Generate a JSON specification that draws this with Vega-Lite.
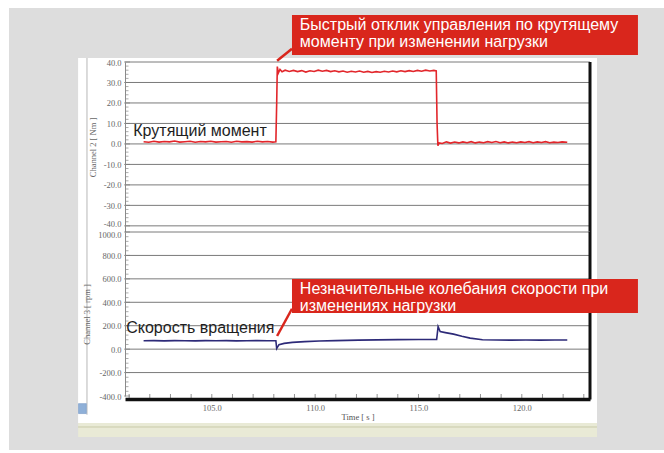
{
  "$schema": "https://vega.github.io/schema/vega-lite/v6.json",
  "background": "#dddddd",
  "padding": 0,
  "spacing": 0,
  "bounds": "flush",
  "config": {"view": {"stroke": null}, "axis": {"labelOverlap": false, "labelFlush": false}},
  "vconcat": [
    {
      "width": 465,
      "height": 170,
      "layer": [
        {
          "data": {"values": [{}]},
          "mark": {"type": "rect", "fill": "white"},
          "encoding": {
            "x": {"datum": 98.53, "type": "quantitative", "scale": {"domain": [100.8, 123.3], "nice": false, "zero": false}, "axis": null},
            "x2": {"datum": 123.64},
            "y": {
              "datum": 41.95, "type": "quantitative",
              "scale": {"domain": [-43, 40], "nice": false, "zero": false},
              "axis": {
                "title": "Channel 2 [ Nm ]",
                "values": [40, 30, 20, 10, 0, -10, -20, -30, -40],
                "tickCount": 100,
                "labelExpr": "datum.value + '.0'",
                "labelOffset": {"condition": {"test": "datum.value === -40", "value": -2}, "value": 0},
                "ticks": false,
                "grid": false,
                "domainColor": "#8a8a8a",
                "labelFont": "Liberation Serif",
                "labelFontSize": 8.5,
                "labelColor": "#666666",
                "labelPadding": 4,
                "labelOverlap": false,
                "labelFlush": false,
                "titleFont": "Liberation Serif",
                "titleFontSize": 8.5,
                "titleFontWeight": "normal",
                "titleColor": "#666666",
                "titlePadding": 6,
                "zindex": 1
              }
            },
            "y2": {"datum": -43}
          }
        },
        {
          "data": {"values": [{}]},
          "mark": {"type": "rect", "fill": "white"},
          "encoding": {
            "x": {"datum": 94.752, "type": "quantitative", "scale": {"domain": [100.8, 123.3], "nice": false, "zero": false}},
            "x2": {"datum": 126.88},
            "y": {"datum": 70.27, "type": "quantitative", "scale": {"domain": [-43, 40], "nice": false, "zero": false}},
            "y2": {"datum": 66.37}
          }
        },
        {
          "data": {"values": [{}]},
          "mark": {"type": "rect", "fill": "white"},
          "encoding": {
            "x": {"datum": 94.752, "type": "quantitative", "scale": {"domain": [100.8, 123.3], "nice": false, "zero": false}},
            "x2": {"datum": 95.188},
            "y": {"datum": 70.27, "type": "quantitative", "scale": {"domain": [-43, 40], "nice": false, "zero": false}},
            "y2": {"datum": -43}
          }
        },
        {
          "data": {"values": [{}]},
          "mark": {"type": "rule", "color": "#b8b8b8", "strokeWidth": 1},
          "encoding": {
            "x": {"datum": 98.96, "type": "quantitative", "scale": {"domain": [100.8, 123.3], "nice": false, "zero": false}},
            "y": {"datum": 41.95, "type": "quantitative", "scale": {"domain": [-43, 40], "nice": false, "zero": false}},
            "y2": {"datum": -43}
          }
        },
        {
          "data": {"values": [{"v": 40}, {"v": 30}, {"v": 20}, {"v": 10}, {"v": 0}, {"v": -10}, {"v": -20}, {"v": -30}, {"v": -40}]},
          "mark": {"type": "rule", "color": "#7a7a7a", "strokeWidth": 1},
          "encoding": {
            "y": {"field": "v", "type": "quantitative", "scale": {"domain": [-43, 40], "nice": false, "zero": false}}
          }
        },
        {
          "data": {"values": [{"v": 40}, {"v": 30}, {"v": 20}, {"v": 10}, {"v": 0}, {"v": -10}, {"v": -20}, {"v": -30}, {"v": -40}]},
          "mark": {"type": "tick", "orient": "horizontal", "size": 6, "thickness": 1, "color": "#7a7a7a", "xOffset": 2},
          "encoding": {
            "x": {"datum": 100.8, "type": "quantitative", "scale": {"domain": [100.8, 123.3], "nice": false, "zero": false}},
            "y": {"field": "v", "type": "quantitative", "scale": {"domain": [-43, 40], "nice": false, "zero": false}}
          }
        },
        {
          "data": {"values": [{"v": 38}, {"v": 36}, {"v": 34}, {"v": 32}, {"v": 28}, {"v": 26}, {"v": 24}, {"v": 22}, {"v": 18}, {"v": 16}, {"v": 14}, {"v": 12}, {"v": 8}, {"v": 6}, {"v": 4}, {"v": 2}, {"v": -2}, {"v": -4}, {"v": -6}, {"v": -8}, {"v": -12}, {"v": -14}, {"v": -16}, {"v": -18}, {"v": -22}, {"v": -24}, {"v": -26}, {"v": -28}, {"v": -32}, {"v": -34}, {"v": -36}, {"v": -38}]},
          "mark": {"type": "tick", "orient": "horizontal", "size": 3.5, "thickness": 1, "color": "#8a8a8a", "xOffset": 1.75},
          "encoding": {
            "x": {"datum": 100.8, "type": "quantitative", "scale": {"domain": [100.8, 123.3], "nice": false, "zero": false}},
            "y": {"field": "v", "type": "quantitative", "scale": {"domain": [-43, 40], "nice": false, "zero": false}}
          }
        },
        {
          "data": {"values": [{}]},
          "mark": {"type": "rule", "color": "#111111", "strokeWidth": 3},
          "encoding": {
            "x": {"datum": 123.3, "type": "quantitative", "scale": {"domain": [100.8, 123.3], "nice": false, "zero": false}}
          }
        },
        {
          "data": {"values": [
            {"t": 101.70, "v": 1.1}, {"t": 101.95, "v": 0.8}, {"t": 102.20, "v": 1.3}, {"t": 102.45, "v": 0.9}, {"t": 102.70, "v": 1.2}, {"t": 102.95, "v": 1.0}, {"t": 103.20, "v": 1.4}, {"t": 103.45, "v": 0.9}, {"t": 103.70, "v": 1.1}, {"t": 103.95, "v": 1.3}, {"t": 104.20, "v": 0.8}, {"t": 104.45, "v": 1.2}, {"t": 104.70, "v": 1.0}, {"t": 104.95, "v": 1.3}, {"t": 105.20, "v": 0.9}, {"t": 105.45, "v": 1.1}, {"t": 105.70, "v": 1.2}, {"t": 105.95, "v": 0.8}, {"t": 106.20, "v": 1.3}, {"t": 106.45, "v": 1.0}, {"t": 106.70, "v": 1.1}, {"t": 106.95, "v": 0.9}, {"t": 107.20, "v": 1.3}, {"t": 107.45, "v": 1.0}, {"t": 107.70, "v": 1.2}, {"t": 107.95, "v": 0.9}, {"t": 108.10, "v": 1.1},
            {"t": 108.14, "v": 20}, {"t": 108.17, "v": 37.8}, {"t": 108.22, "v": 34.6}, {"t": 108.30, "v": 36.4}, {"t": 108.40, "v": 35.2}, {"t": 108.55, "v": 36.0}, {"t": 108.75, "v": 35.4}, {"t": 108.95, "v": 35.9}, {"t": 109.15, "v": 35.3}, {"t": 109.35, "v": 35.8}, {"t": 109.55, "v": 35.1}, {"t": 109.75, "v": 35.7}, {"t": 109.95, "v": 35.4}, {"t": 110.15, "v": 36.0}, {"t": 110.35, "v": 35.5}, {"t": 110.55, "v": 35.9}, {"t": 110.75, "v": 35.3}, {"t": 110.95, "v": 35.7}, {"t": 111.15, "v": 35.2}, {"t": 111.35, "v": 35.6}, {"t": 111.55, "v": 35.0}, {"t": 111.75, "v": 35.5}, {"t": 111.95, "v": 35.1}, {"t": 112.15, "v": 35.6}, {"t": 112.35, "v": 35.0}, {"t": 112.55, "v": 35.4}, {"t": 112.75, "v": 34.9}, {"t": 112.95, "v": 35.3}, {"t": 113.15, "v": 35.0}, {"t": 113.35, "v": 35.5}, {"t": 113.55, "v": 35.1}, {"t": 113.75, "v": 35.6}, {"t": 113.95, "v": 35.2}, {"t": 114.15, "v": 35.7}, {"t": 114.35, "v": 35.3}, {"t": 114.55, "v": 35.8}, {"t": 114.75, "v": 35.4}, {"t": 114.95, "v": 35.9}, {"t": 115.15, "v": 35.5}, {"t": 115.35, "v": 36.0}, {"t": 115.55, "v": 35.6}, {"t": 115.75, "v": 35.9}, {"t": 115.86, "v": 35.7},
            {"t": 115.90, "v": 10}, {"t": 115.94, "v": -0.9}, {"t": 116.00, "v": 0.5}, {"t": 116.15, "v": 0.2}, {"t": 116.35, "v": 1.0}, {"t": 116.55, "v": 0.4}, {"t": 116.75, "v": 0.9}, {"t": 116.95, "v": 0.5}, {"t": 117.15, "v": 1.0}, {"t": 117.35, "v": 0.6}, {"t": 117.55, "v": 1.1}, {"t": 117.75, "v": 0.5}, {"t": 117.95, "v": 0.9}, {"t": 118.15, "v": 0.6}, {"t": 118.35, "v": 1.1}, {"t": 118.55, "v": 0.7}, {"t": 118.75, "v": 1.2}, {"t": 118.95, "v": 0.6}, {"t": 119.15, "v": 1.0}, {"t": 119.35, "v": 0.5}, {"t": 119.55, "v": 0.9}, {"t": 119.75, "v": 0.6}, {"t": 119.95, "v": 1.0}, {"t": 120.15, "v": 0.7}, {"t": 120.35, "v": 1.1}, {"t": 120.55, "v": 0.6}, {"t": 120.75, "v": 1.0}, {"t": 120.95, "v": 0.7}, {"t": 121.15, "v": 1.1}, {"t": 121.35, "v": 0.6}, {"t": 121.55, "v": 0.9}, {"t": 121.75, "v": 0.7}, {"t": 121.95, "v": 1.0}, {"t": 122.20, "v": 0.8}
          ]},
          "mark": {"type": "line", "color": "#e2262b", "strokeWidth": 1.6},
          "encoding": {
            "x": {"field": "t", "type": "quantitative", "scale": {"domain": [100.8, 123.3], "nice": false, "zero": false}},
            "y": {"field": "v", "type": "quantitative", "scale": {"domain": [-43, 40], "nice": false, "zero": false}}
          }
        },
        {
          "data": {"values": [{}]},
          "mark": {"type": "text", "align": "left", "baseline": "alphabetic", "font": "Liberation Sans", "fontSize": 16, "color": "#1e1e1e"},
          "encoding": {
            "x": {"datum": 101.2, "type": "quantitative", "scale": {"domain": [100.8, 123.3], "nice": false, "zero": false}},
            "y": {"datum": 3.87, "type": "quantitative", "scale": {"domain": [-43, 40], "nice": false, "zero": false}},
            "text": {"value": "Крутящий момент"}
          }
        },
        {
          "data": {"values": [{"t": 108.16, "v": 40.6}, {"t": 108.88, "v": 46.5}]},
          "mark": {"type": "line", "color": "#d9261c", "strokeWidth": 2.5},
          "encoding": {
            "x": {"field": "t", "type": "quantitative", "scale": {"domain": [100.8, 123.3], "nice": false, "zero": false}},
            "y": {"field": "v", "type": "quantitative", "scale": {"domain": [-43, 40], "nice": false, "zero": false}}
          }
        },
        {
          "data": {"values": [{}]},
          "mark": {"type": "rect", "fill": "#d9261c"},
          "encoding": {
            "x": {"datum": 108.88, "type": "quantitative", "scale": {"domain": [100.8, 123.3], "nice": false, "zero": false}},
            "x2": {"datum": 125.62},
            "y": {"datum": 62.95, "type": "quantitative", "scale": {"domain": [-43, 40], "nice": false, "zero": false}},
            "y2": {"datum": 43.42}
          }
        },
        {
          "data": {"values": [{}]},
          "mark": {"type": "text", "align": "left", "baseline": "alphabetic", "font": "Liberation Sans", "fontSize": 16, "color": "white"},
          "encoding": {
            "x": {"datum": 109.26, "type": "quantitative", "scale": {"domain": [100.8, 123.3], "nice": false, "zero": false}},
            "y": {"datum": 55.6, "type": "quantitative", "scale": {"domain": [-43, 40], "nice": false, "zero": false}},
            "text": {"value": "Быстрый отклик управления по крутящему"}
          }
        },
        {
          "data": {"values": [{}]},
          "mark": {"type": "text", "align": "left", "baseline": "alphabetic", "font": "Liberation Sans", "fontSize": 16, "color": "white"},
          "encoding": {
            "x": {"datum": 109.26, "type": "quantitative", "scale": {"domain": [100.8, 123.3], "nice": false, "zero": false}},
            "y": {"datum": 47.3, "type": "quantitative", "scale": {"domain": [-43, 40], "nice": false, "zero": false}},
            "text": {"value": "моменту при изменении нагрузки"}
          }
        }
      ]
    },
    {
      "width": 465,
      "height": 164,
      "layer": [
        {
          "data": {"values": [{}]},
          "mark": {"type": "rect", "fill": "white"},
          "encoding": {
            "x": {
              "datum": 98.53, "type": "quantitative",
              "scale": {"domain": [100.8, 123.3], "nice": false, "zero": false},
              "axis": {
                "title": "Time [ s ]",
                "values": [105, 110, 115, 120],
                "tickCount": 100,
                "labelExpr": "datum.value + '.0'",
                "ticks": false,
                "domainColor": "#111111",
                "domainWidth": 3.5,
                "offset": 3,
                "grid": false,
                "labelFont": "Liberation Serif",
                "labelFontSize": 8.5,
                "labelColor": "#666666",
                "labelPadding": 4,
                "labelOverlap": false,
                "labelFlush": false,
                "titleFont": "Liberation Serif",
                "titleFontSize": 8.5,
                "titleFontWeight": "normal",
                "titleColor": "#555555",
                "titlePadding": 1,
                "zindex": 1
              }
            },
            "x2": {"datum": 123.64},
            "y": {
              "datum": 1000, "type": "quantitative",
              "scale": {"domain": [-400, 1000], "nice": false, "zero": false},
              "axis": {
                "title": "Channel 3 [ rpm ]",
                "values": [1000, 800, 600, 400, 200, 0, -200, -400],
                "tickCount": 100,
                "labelExpr": "datum.value + '.0'",
                "labelOffset": {"condition": {"test": "datum.value === 1000", "value": 2.5}, "value": 0},
                "ticks": false,
                "grid": false,
                "domainColor": "#8a8a8a",
                "labelFont": "Liberation Serif",
                "labelFontSize": 8.5,
                "labelColor": "#666666",
                "labelPadding": 4,
                "labelOverlap": false,
                "labelFlush": false,
                "titleFont": "Liberation Serif",
                "titleFontSize": 8.5,
                "titleFontWeight": "normal",
                "titleColor": "#666666",
                "titlePadding": 6,
                "zindex": 1
              }
            },
            "y2": {"datum": -630.5}
          }
        },
        {
          "data": {"values": [{}]},
          "mark": {"type": "rect", "fill": "white"},
          "encoding": {
            "x": {"datum": 94.752, "type": "quantitative", "scale": {"domain": [100.8, 123.3], "nice": false, "zero": false}},
            "x2": {"datum": 95.188},
            "y": {"datum": 1000, "type": "quantitative", "scale": {"domain": [-400, 1000], "nice": false, "zero": false}},
            "y2": {"datum": -886.6}
          }
        },
        {
          "data": {"values": [{}]},
          "mark": {"type": "rect", "fill": "white"},
          "encoding": {
            "x": {"datum": 94.752, "type": "quantitative", "scale": {"domain": [100.8, 123.3], "nice": false, "zero": false}},
            "x2": {"datum": 126.88},
            "y": {"datum": -861, "type": "quantitative", "scale": {"domain": [-400, 1000], "nice": false, "zero": false}},
            "y2": {"datum": -886.6}
          }
        },
        {
          "data": {"values": [{}]},
          "mark": {"type": "rect", "fill": "#e9ead6"},
          "encoding": {
            "x": {"datum": 98.53, "type": "quantitative", "scale": {"domain": [100.8, 123.3], "nice": false, "zero": false}},
            "x2": {"datum": 123.64},
            "y": {"datum": -630.5, "type": "quantitative", "scale": {"domain": [-400, 1000], "nice": false, "zero": false}},
            "y2": {"datum": -750}
          }
        },
        {
          "data": {"values": [{}]},
          "mark": {"type": "rule", "color": "#c9caa9", "strokeWidth": 1},
          "encoding": {
            "x": {"datum": 98.53, "type": "quantitative", "scale": {"domain": [100.8, 123.3], "nice": false, "zero": false}},
            "x2": {"datum": 123.64},
            "y": {"datum": -664.6, "type": "quantitative", "scale": {"domain": [-400, 1000], "nice": false, "zero": false}}
          }
        },
        {
          "data": {"values": [{}]},
          "mark": {"type": "rule", "color": "#b8b8b8", "strokeWidth": 1},
          "encoding": {
            "x": {"datum": 98.96, "type": "quantitative", "scale": {"domain": [100.8, 123.3], "nice": false, "zero": false}},
            "y": {"datum": 1000, "type": "quantitative", "scale": {"domain": [-400, 1000], "nice": false, "zero": false}},
            "y2": {"datum": -560}
          }
        },
        {
          "data": {"values": [{}]},
          "mark": {"type": "rect", "fill": "#8fb0d8", "stroke": "#6a8fbf", "strokeWidth": 0.5},
          "encoding": {
            "x": {"datum": 98.55, "type": "quantitative", "scale": {"domain": [100.8, 123.3], "nice": false, "zero": false}},
            "x2": {"datum": 98.93},
            "y": {"datum": -465, "type": "quantitative", "scale": {"domain": [-400, 1000], "nice": false, "zero": false}},
            "y2": {"datum": -550}
          }
        },
        {
          "data": {"values": [{"v": 1000}, {"v": 800}, {"v": 600}, {"v": 400}, {"v": 200}, {"v": 0}, {"v": -200}]},
          "mark": {"type": "rule", "color": "#7a7a7a", "strokeWidth": 1},
          "encoding": {
            "y": {"field": "v", "type": "quantitative", "scale": {"domain": [-400, 1000], "nice": false, "zero": false}}
          }
        },
        {
          "data": {"values": [{"v": 1000}, {"v": 800}, {"v": 600}, {"v": 400}, {"v": 200}, {"v": 0}, {"v": -200}, {"v": -400}]},
          "mark": {"type": "tick", "orient": "horizontal", "size": 6, "thickness": 1, "color": "#7a7a7a", "xOffset": 2},
          "encoding": {
            "x": {"datum": 100.8, "type": "quantitative", "scale": {"domain": [100.8, 123.3], "nice": false, "zero": false}},
            "y": {"field": "v", "type": "quantitative", "scale": {"domain": [-400, 1000], "nice": false, "zero": false}}
          }
        },
        {
          "data": {"values": [{"v": 960}, {"v": 920}, {"v": 880}, {"v": 840}, {"v": 760}, {"v": 720}, {"v": 680}, {"v": 640}, {"v": 560}, {"v": 520}, {"v": 480}, {"v": 440}, {"v": 360}, {"v": 320}, {"v": 280}, {"v": 240}, {"v": 160}, {"v": 120}, {"v": 80}, {"v": 40}, {"v": -40}, {"v": -80}, {"v": -120}, {"v": -160}, {"v": -240}, {"v": -280}, {"v": -320}, {"v": -360}]},
          "mark": {"type": "tick", "orient": "horizontal", "size": 3.5, "thickness": 1, "color": "#8a8a8a", "xOffset": 1.75},
          "encoding": {
            "x": {"datum": 100.8, "type": "quantitative", "scale": {"domain": [100.8, 123.3], "nice": false, "zero": false}},
            "y": {"field": "v", "type": "quantitative", "scale": {"domain": [-400, 1000], "nice": false, "zero": false}}
          }
        },
        {
          "data": {"values": [{"t": 101}, {"t": 102}, {"t": 103}, {"t": 104}, {"t": 105}, {"t": 106}, {"t": 107}, {"t": 108}, {"t": 109}, {"t": 110}, {"t": 111}, {"t": 112}, {"t": 113}, {"t": 114}, {"t": 115}, {"t": 116}, {"t": 117}, {"t": 118}, {"t": 119}, {"t": 120}, {"t": 121}, {"t": 122}, {"t": 123}]},
          "mark": {"type": "tick", "orient": "vertical", "size": 5, "thickness": 1, "color": "#666666", "yOffset": 0.5},
          "encoding": {
            "x": {"field": "t", "type": "quantitative", "scale": {"domain": [100.8, 123.3], "nice": false, "zero": false}},
            "y": {"datum": -400, "type": "quantitative", "scale": {"domain": [-400, 1000], "nice": false, "zero": false}}
          }
        },
        {
          "data": {"values": [{}]},
          "mark": {"type": "rule", "color": "#111111", "strokeWidth": 3},
          "encoding": {
            "x": {"datum": 123.3, "type": "quantitative", "scale": {"domain": [100.8, 123.3], "nice": false, "zero": false}},
            "y": {"datum": 1000, "type": "quantitative", "scale": {"domain": [-400, 1000], "nice": false, "zero": false}},
            "y2": {"datum": -430}
          }
        },
        {
          "data": {"values": [
            {"t": 101.70, "v": 72}, {"t": 102.20, "v": 73}, {"t": 102.70, "v": 71}, {"t": 103.20, "v": 73}, {"t": 103.70, "v": 72}, {"t": 104.20, "v": 71}, {"t": 104.70, "v": 73}, {"t": 105.20, "v": 72}, {"t": 105.70, "v": 73}, {"t": 106.20, "v": 71}, {"t": 106.70, "v": 72}, {"t": 107.20, "v": 73}, {"t": 107.70, "v": 72}, {"t": 108.10, "v": 72},
            {"t": 108.14, "v": 5}, {"t": 108.25, "v": 38}, {"t": 108.50, "v": 49}, {"t": 108.90, "v": 58}, {"t": 109.50, "v": 64}, {"t": 110.20, "v": 69}, {"t": 111.00, "v": 73}, {"t": 112.10, "v": 77}, {"t": 113.00, "v": 79}, {"t": 114.00, "v": 81}, {"t": 115.00, "v": 82}, {"t": 115.88, "v": 83},
            {"t": 115.95, "v": 192}, {"t": 116.05, "v": 150}, {"t": 116.30, "v": 141}, {"t": 116.70, "v": 128}, {"t": 117.10, "v": 110}, {"t": 117.50, "v": 94}, {"t": 118.10, "v": 80}, {"t": 118.80, "v": 78}, {"t": 119.50, "v": 77}, {"t": 120.20, "v": 78}, {"t": 120.90, "v": 77}, {"t": 121.60, "v": 78}, {"t": 122.20, "v": 78}
          ]},
          "mark": {"type": "line", "color": "#2d2a78", "strokeWidth": 1.6},
          "encoding": {
            "x": {"field": "t", "type": "quantitative", "scale": {"domain": [100.8, 123.3], "nice": false, "zero": false}},
            "y": {"field": "v", "type": "quantitative", "scale": {"domain": [-400, 1000], "nice": false, "zero": false}}
          }
        },
        {
          "data": {"values": [{}]},
          "mark": {"type": "text", "align": "left", "baseline": "alphabetic", "font": "Liberation Sans", "fontSize": 16, "color": "#1e1e1e"},
          "encoding": {
            "x": {"datum": 100.86, "type": "quantitative", "scale": {"domain": [100.8, 123.3], "nice": false, "zero": false}},
            "y": {"datum": 135, "type": "quantitative", "scale": {"domain": [-400, 1000], "nice": false, "zero": false}},
            "text": {"value": "Скорость вращения"}
          }
        },
        {
          "data": {"values": [{"t": 108.16, "v": 112}, {"t": 108.88, "v": 345}]},
          "mark": {"type": "line", "color": "#d9261c", "strokeWidth": 2.5},
          "encoding": {
            "x": {"field": "t", "type": "quantitative", "scale": {"domain": [100.8, 123.3], "nice": false, "zero": false}},
            "y": {"field": "v", "type": "quantitative", "scale": {"domain": [-400, 1000], "nice": false, "zero": false}}
          }
        },
        {
          "data": {"values": [{}]},
          "mark": {"type": "rect", "fill": "#d9261c"},
          "encoding": {
            "x": {"datum": 108.88, "type": "quantitative", "scale": {"domain": [100.8, 123.3], "nice": false, "zero": false}},
            "x2": {"datum": 125.62},
            "y": {"datum": 598.8, "type": "quantitative", "scale": {"domain": [-400, 1000], "nice": false, "zero": false}},
            "y2": {"datum": 308.5}
          }
        },
        {
          "data": {"values": [{}]},
          "mark": {"type": "text", "align": "left", "baseline": "alphabetic", "font": "Liberation Sans", "fontSize": 16, "color": "white"},
          "encoding": {
            "x": {"datum": 109.26, "type": "quantitative", "scale": {"domain": [100.8, 123.3], "nice": false, "zero": false}},
            "y": {"datum": 470.7, "type": "quantitative", "scale": {"domain": [-400, 1000], "nice": false, "zero": false}},
            "text": {"value": "Незначительные колебания скорости при"}
          }
        },
        {
          "data": {"values": [{}]},
          "mark": {"type": "text", "align": "left", "baseline": "alphabetic", "font": "Liberation Sans", "fontSize": 16, "color": "white"},
          "encoding": {
            "x": {"datum": 109.26, "type": "quantitative", "scale": {"domain": [100.8, 123.3], "nice": false, "zero": false}},
            "y": {"datum": 328, "type": "quantitative", "scale": {"domain": [-400, 1000], "nice": false, "zero": false}},
            "text": {"value": "изменениях нагрузки"}
          }
        }
      ]
    }
  ]
}
